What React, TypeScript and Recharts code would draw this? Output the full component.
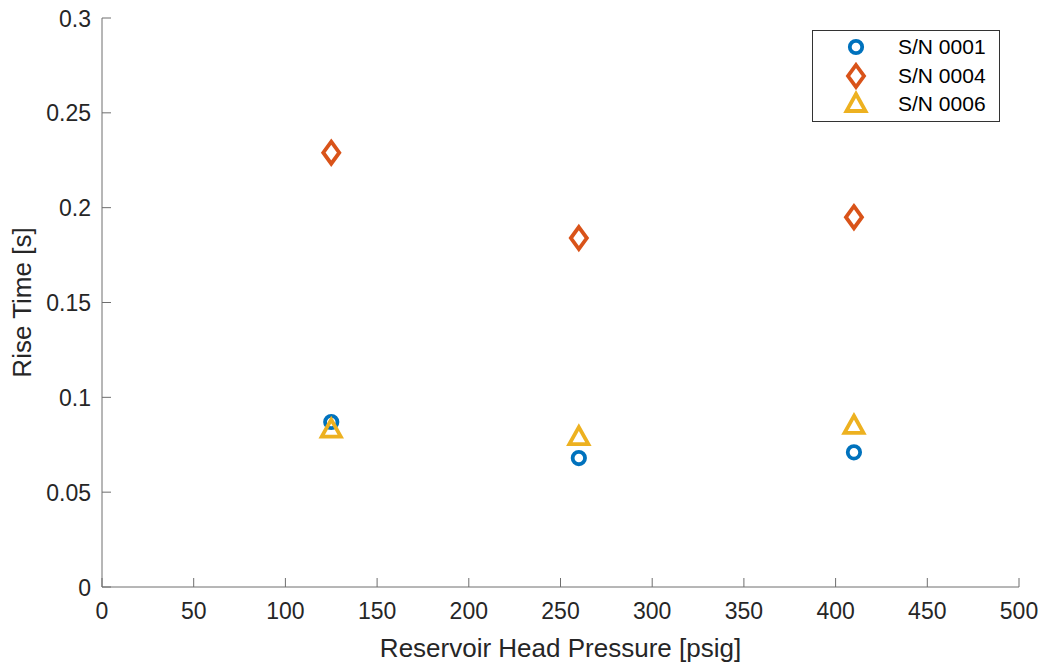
import React from 'react';
import { ScatterChart, Scatter, XAxis, YAxis, Legend } from 'recharts';

const pressures = [125, 260, 410];
const sn0001 = [0.087, 0.068, 0.071];
const sn0004 = [0.229, 0.184, 0.195];
const sn0006 = [0.083, 0.079, 0.085];

const xTicks = [0, 50, 100, 150, 200, 250, 300, 350, 400, 450, 500];
const yTicks = [0, 0.05, 0.1, 0.15, 0.2, 0.25, 0.3];

const toPoints = (ys: number[]) => pressures.map((x, i) => ({ x, y: ys[i] }));

const series = [
  { name: 'S/N 0001', color: '#0072BD', shape: 'circle', data: toPoints(sn0001) },
  { name: 'S/N 0004', color: '#D95319', shape: 'diamond', data: toPoints(sn0004) },
  { name: 'S/N 0006', color: '#EDB120', shape: 'triangle', data: toPoints(sn0006) },
];

const FONT = '"Liberation Sans", Arial, Helvetica, sans-serif';
const TEXT = '#262626';
const AXIS = '#6e6e6e';

const Marker = ({ kind, cx, cy, color }: any) => {
  if (kind === 'circle') {
    return <circle cx={cx} cy={cy} r={6.2} fill="none" stroke={color} strokeWidth={3.8} />;
  }
  if (kind === 'diamond') {
    const p = `${cx},${cy - 11} ${cx + 8},${cy} ${cx},${cy + 11} ${cx - 8},${cy}`;
    return <polygon points={p} fill="none" stroke={color} strokeWidth={3.8} />;
  }
  const p = `${cx},${cy - 10} ${cx + 9.5},${cy + 7} ${cx - 9.5},${cy + 7}`;
  return <polygon points={p} fill="none" stroke={color} strokeWidth={3.8} />;
};

const XTick = ({ x, y, payload }: any) => (
  <g>
    <line x1={x} y1={y} x2={x} y2={y - 9} stroke={AXIS} strokeWidth={1} />
    <text x={x} y={y + 32} textAnchor="middle" fill={TEXT} fontSize={23} fontFamily={FONT}>
      {payload.value}
    </text>
  </g>
);

const YTick = ({ x, y, payload }: any) => (
  <g>
    <line x1={x} y1={y} x2={x + 9} y2={y} stroke={AXIS} strokeWidth={1} />
    <text x={x - 11} y={y + 8.5} textAnchor="end" fill={TEXT} fontSize={23} fontFamily={FONT}>
      {payload.value}
    </text>
  </g>
);

const XLabel = ({ viewBox }: any) => (
  <text x={viewBox.x + viewBox.width / 2} y={viewBox.y + 70} textAnchor="middle" fill={TEXT} fontSize={26} fontFamily={FONT}>
    Reservoir Head Pressure [psig]
  </text>
);

const YLabel = ({ viewBox }: any) => {
  const cy = viewBox.y + viewBox.height / 2;
  return (
    <text
      x={31}
      y={cy}
      transform={`rotate(-90, 31, ${cy})`}
      textAnchor="middle"
      fill={TEXT}
      fontSize={26}
      fontFamily={FONT}
    >
      Rise Time [s]
    </text>
  );
};

const LegendBox = () => (
  <div
    style={{
      width: 188,
      height: 92,
      border: '1px solid #333',
      background: '#fff',
      fontFamily: FONT,
      fontSize: 21,
      color: '#000',
      boxSizing: 'border-box',
      paddingTop: 2,
    }}
  >
    {series.map((s) => (
      <div key={s.name} style={{ display: 'flex', alignItems: 'center', height: 28.5 }}>
        <svg width={70} height={28}>
          <Marker kind={s.shape} cx={43} cy={14} color={s.color} />
        </svg>
        <span style={{ marginLeft: 15 }}>{s.name}</span>
      </div>
    ))}
  </div>
);

export default function App() {
  return (
    <div style={{ position: 'absolute', left: 0, top: 0, background: '#fff' }}>
      <ScatterChart width={1047} height={666} margin={{ top: 18, right: 28, bottom: 19, left: 0 }}>
        <XAxis
          type="number"
          dataKey="x"
          domain={[0, 500]}
          ticks={xTicks}
          interval={0}
          tickSize={0}
          tickMargin={0}
          tick={<XTick />}
          stroke={AXIS}
          height={60}
          label={<XLabel />}
        />
        <YAxis
          type="number"
          dataKey="y"
          domain={[0, 0.3]}
          ticks={yTicks}
          interval={0}
          tickSize={0}
          tickMargin={0}
          tick={<YTick />}
          stroke={AXIS}
          width={102}
          label={<YLabel />}
        />
        <Legend
          content={<LegendBox />}
          layout="vertical"
          verticalAlign="middle"
          align="center"
          wrapperStyle={{ position: 'absolute', left: 812, top: 30, width: 188 }}
        />
        {series.map((s) => (
          <Scatter
            key={s.name}
            name={s.name}
            data={s.data}
            isAnimationActive={false}
            shape={(props: any) => <Marker kind={s.shape} cx={props.cx} cy={props.cy} color={s.color} />}
          />
        ))}
      </ScatterChart>
    </div>
  );
}
